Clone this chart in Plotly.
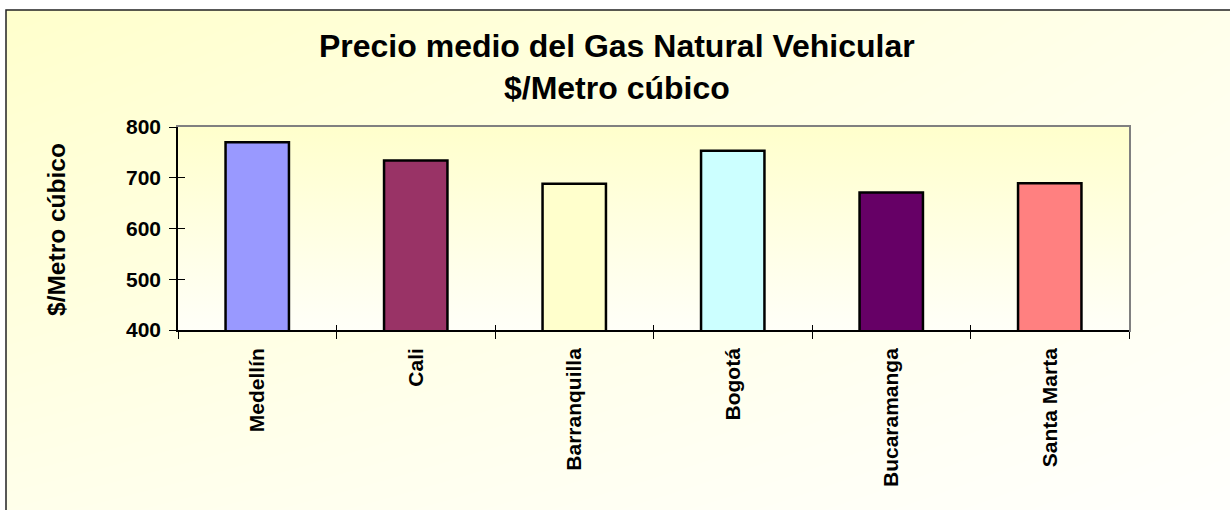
import plotly.graph_objects as go

# average price of vehicular natural gas per city
cities = ["Medellín", "Cali", "Barranquilla", "Bogotá", "Bucaramanga", "Santa Marta"]
prices = [770, 734, 688, 753, 671, 689]
bar_colors = ["#9999FF", "#993366", "#FFFFCC", "#CCFFFF", "#660066", "#FF8080"]
y_ticks = [400, 500, 600, 700, 800]

W, H = 1230, 510
FONT = "Liberation Sans, Arial, sans-serif"

# plot area, in pixels of the picture
px_left, px_right, px_top, px_bottom = 178, 1129, 127, 330
dom_x = [px_left / W, px_right / W]
dom_y = [1 - px_bottom / H, 1 - px_top / H]
# chart area box (right and bottom edges fall outside the picture)
box_x = [6 / W, 1]
box_y = [0, 1 - 10 / H]

fig = go.Figure()

# chart area background: pale yellow fading to white towards bottom right
fig.add_trace(go.Heatmap(z=[[0.6, 0.95], [0, 0.6]], x=[0, 1], y=[0, 1], zsmooth="best",
                         colorscale=[[0, "#FFFFCC"], [1, "#FFFFFF"]], zmin=0, zmax=1,
                         showscale=False, hoverinfo="skip", xaxis="x", yaxis="y"))

# plot area background: vertical gradient
fig.add_trace(go.Scatter(x=[0, 1, 1, 0, 0], y=[0, 0, 1, 1, 0], mode="lines",
                         line=dict(width=0), fill="toself",
                         fillgradient=dict(type="vertical",
                                           colorscale=[[0, "#FFFFF8"], [1, "#FFFFCC"]]),
                         hoverinfo="skip", showlegend=False, xaxis="x2", yaxis="y2"))

fig.add_trace(go.Bar(x=cities, y=prices,
                     marker=dict(color=bar_colors, line=dict(color="black", width=2.5)),
                     width=0.4, showlegend=False, xaxis="x3", yaxis="y3"))

hidden = dict(range=[0, 1], visible=False, fixedrange=True)
frame = dict(range=[0, 1], showline=True, mirror=True, linecolor="#808080", linewidth=2,
             showticklabels=False, showgrid=False, zeroline=False, fixedrange=True,
             ticks="inside", tickcolor="black", tickwidth=1)

n = len(cities)
fig.update_layout(
    width=W, height=H,
    margin=dict(l=0, r=0, t=0, b=0),
    paper_bgcolor="white",
    plot_bgcolor="rgba(0,0,0,0)",
    font=dict(family=FONT, color="black"),
    title=dict(text="Precio medio del Gas Natural Vehicular<br>$/Metro cúbico",
               font=dict(family=FONT, size=32, weight="bold", color="black"),
               x=0.5015, xanchor="center", y=1 - 57 / H, yanchor="top", yref="container"),
    xaxis=dict(domain=box_x, anchor="y", **hidden),
    yaxis=dict(domain=box_y, anchor="x", **hidden),
    # grey frame of the plot area; its inside ticks complete the crossing tick marks
    xaxis2=dict(domain=dom_x, anchor="y2", tickvals=[i / n for i in range(n + 1)], ticklen=5, **frame),
    yaxis2=dict(domain=dom_y, anchor="x2", tickvals=[i / 4 for i in range(5)], ticklen=7, **frame),
    xaxis3=dict(domain=dom_x, anchor="y3", type="category", showline=True, linecolor="black",
                linewidth=1.5, ticks="outside", tickson="boundaries", ticklen=7, tickcolor="black",
                tickangle=-90, tickfont=dict(family=FONT, size=21, weight="bold"),
                ticklabelstandoff=8, showgrid=False, automargin=False),
    yaxis3=dict(domain=dom_y, anchor="x3", range=[400, 800], tickvals=y_ticks, ticks="outside",
                ticklen=7, tickcolor="black", tickfont=dict(family=FONT, size=21, weight="bold"),
                ticklabelstandoff=4, showline=True, linecolor="black", linewidth=1.5,
                showgrid=False, zeroline=False, automargin=False),
    shapes=[dict(type="rect", xref="paper", yref="paper", x0=6 / W, x1=1.2, y0=-0.2, y1=1 - 10 / H,
                 line=dict(color="#222222", width=1.5), fillcolor="rgba(0,0,0,0)")],
    annotations=[dict(text="$/Metro cúbico", textangle=-90, xref="paper", yref="paper",
                      x=57 / W, y=1 - 230 / H, xanchor="center", yanchor="middle", showarrow=False,
                      font=dict(family=FONT, size=24.5, weight="bold", color="black"))],
)

# drop the page's default body margin so the figure sits at the window's corner
fig.write_html("out.html", config={"displayModeBar": False},
               post_script="document.body.style.margin = '0';")
